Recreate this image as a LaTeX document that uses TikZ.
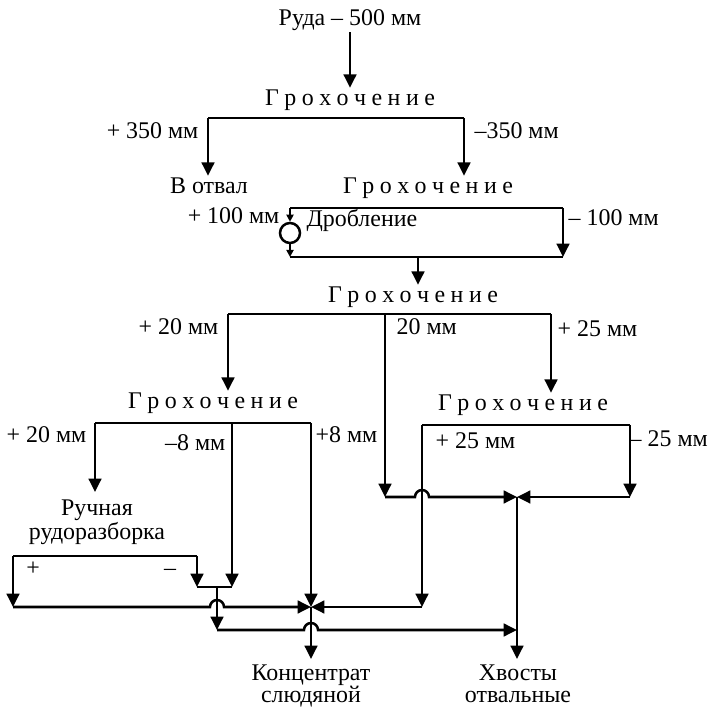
\documentclass[tikz,border=0pt]{standalone}
\usepackage{fontspec}
\setmainfont{Liberation Serif}
\usetikzlibrary{arrows.meta}

\newcommand{\screening}{{\spaceskip=3.9pt Г р о х о ч е н и е}}

\tikzset{
	flow/.style={black, line width=1.8pt},
	arrow/.style={flow, -{Triangle[length=9.5pt,width=9pt]}},
	minor/.style={flow, -{Triangle[length=5pt,width=5pt]}},
	txt/.style={font=\fontsize{17}{19}\selectfont, inner sep=1pt, text height=11.5pt, text depth=3.5pt},
	product/.style={font=\fontsize{17}{16}\selectfont, inner sep=1pt, align=center}
}

\begin{document}
\begin{tikzpicture}[x=0.025cm, y=0.025cm]
	\useasboundingbox (0,0) rectangle (709,709);
	
	% operations
	\node[txt] (ore) at (350,689) {Руда – 500 мм};
	\node[txt] (g1) at (350,609) {\screening};
	\node[txt] (otval) at (209,521) {В отвал};
	\node[txt] (g2) at (428,521) {\screening};
	\node[txt] (g3) at (413,412) {\screening};
	\node[txt] (g4) at (213,306) {\screening};
	\node[txt] (g5) at (523,304) {\screening};
	\node[product] (hand) at (97,187) {Ручная\\[1pt]рудоразборка};
	\node[product, anchor=north] (conc) at (311,46) {Концентрат\\слюдяной};
	\node[product, anchor=north] (tail) at (518,46) {Хвосты\\отвальные};
	
	% size classes
	\node[txt, anchor=east] (p350) at (200,576) {+ 350 мм};
	\node[txt, anchor=west] (m350) at (473,576) {–350 мм};
	\node[txt, anchor=east] (p100) at (281,491) {+ 100 мм};
	\node[txt, anchor=west] (drob) at (305,488) {Дробление};
	\node[txt, anchor=west] (m100) at (567,489) {– 100 мм};
	\node[txt, anchor=east] (p20a) at (220,380) {+ 20 мм};
	\node[txt, anchor=west] (m20) at (395,380) {20 мм};
	\node[txt, anchor=west] (p25a) at (556,378) {+ 25 мм};
	\node[txt, anchor=east] (p20b) at (88,272) {+ 20 мм};
	\node[txt, anchor=east] (m8) at (227,264) {–8 мм};
	\node[txt, anchor=west] (p8) at (314,272) {+8 мм};
	\node[txt, anchor=west] (p25b) at (434,266) {+ 25 мм};
	\node[txt, anchor=west] (m25) at (628,268) {– 25 мм};
	\node[txt] (plus) at (33,139) {+};
	\node[txt] (minus) at (170,139) {–};
	
	% first screen
	\coordinate (s1l) at (208,591);
	\coordinate (s1r) at (464,591);
	\draw[arrow] (ore.south) -- (g1.north);
	\draw[flow] (s1l) -- (s1r);
	\draw[arrow] (s1l) -- (s1l |- otval.north);
	\draw[arrow] (s1r) -- (s1r |- g2.north);
	
	% second screen with crusher
	\coordinate (s2l) at (290,501);
	\coordinate (s2r) at (563,501);
	\coordinate (b2l) at (290,452);
	\coordinate (b2r) at (563,452);
	\coordinate (b2o) at (418,452);
	\node[draw, circle, flow, minimum size=0.5cm, inner sep=0pt] (crusher) at (290,476) {};
	\draw[flow] (s2l) -- (s2r);
	\draw[arrow] (s2r) -- (b2r);
	\draw[flow] (b2l) -- (b2r);
	\draw[minor] (s2l) -- (crusher.north);
	\draw[minor] (crusher.south) -- (b2l);
	\draw[arrow] (b2o) -- (b2o |- g3.north);
	
	% third screen
	\coordinate (s3l) at (228,395);
	\coordinate (s3m) at (385,395);
	\coordinate (s3r) at (551,395);
	\draw[flow] (s3l) -- (s3r);
	\draw[arrow] (s3l) -- (s3l |- g4.north);
	\draw[arrow] (s3r) -- (s3r |- g5.north);
	
	% fourth screen and hand sorting
	\coordinate (s4l) at (95,286);
	\coordinate (s4m) at (232,286);
	\coordinate (s4r) at (311,286);
	\coordinate (in4) at (95,217);
	\coordinate (r1) at (13,153);
	\coordinate (r2) at (197,153);
	\coordinate (r1b) at (13,102);
	\coordinate (r2b) at (197,122);
	\coordinate (m8b) at (232,122);
	\coordinate (mix) at (217,122);
	\coordinate (mixb) at (217,79);
	\draw[flow] (s4l) -- (s4r);
	\draw[arrow] (s4l) -- (in4);
	\draw[arrow] (s4m) -- (m8b);
	\draw[flow] (r1) -- (r2);
	\draw[arrow] (r1) -- (r1b);
	\draw[arrow] (r2) -- (r2b);
	\draw[flow] (r2b) -- (m8b);
	\draw[arrow] (mix) -- (mixb);
	
	% fifth screen
	\coordinate (g5l) at (422,284);
	\coordinate (g5r) at (630,284);
	\coordinate (g5lb) at (422,102);
	\coordinate (g5rb) at (630,212);
	\coordinate (m20b) at (385,212);
	\draw[flow] (g5l) -- (g5r);
	\draw[arrow] (g5l) -- (g5lb);
	\draw[arrow] (g5r) -- (g5rb);
	\draw[arrow] (s3m) -- (m20b);
	
	% collecting points
	\coordinate (j1) at (311,102);
	\coordinate (j2) at (517,212);
	\coordinate (k1) at (311,50);
	\coordinate (k2) at (517,50);
	\coordinate (hop1) at (210,102);
	\coordinate (hop2) at (304,79);
	\coordinate (hop3) at (415,212);
	\draw[arrow] (r1b) -- (hop1) arc[start angle=180, end angle=0, radius=1.75mm] -- (j1);
	\draw[arrow] (s4r) -- (j1);
	\draw[arrow] (g5lb) -- (j1);
	\draw[arrow] (j1) -- (k1);
	\draw[arrow] (mixb) -- (hop2) arc[start angle=180, end angle=0, radius=1.75mm] -- (mixb -| j2);
	\draw[arrow] (m20b) -- (hop3) arc[start angle=180, end angle=0, radius=1.75mm] -- (j2);
	\draw[arrow] (g5rb) -- (j2);
	\draw[arrow] (j2) -- (k2);
	
\end{tikzpicture}
\end{document}
